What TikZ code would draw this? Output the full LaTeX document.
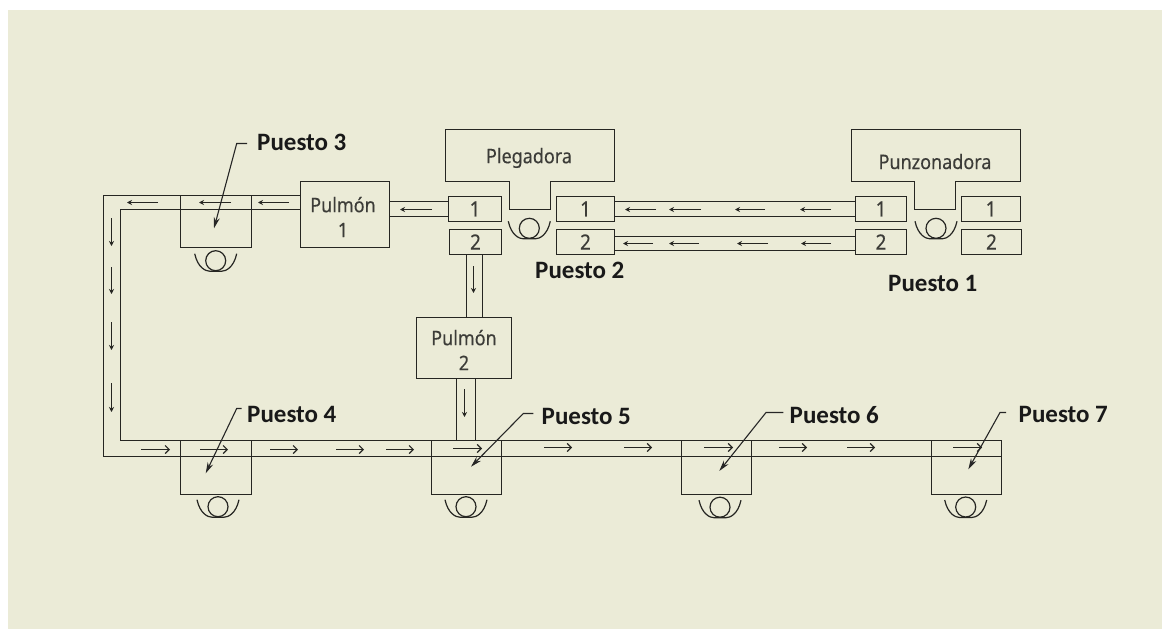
\documentclass[tikz,border=0pt]{standalone}
\usepackage{fontspec}
\setmainfont{Noto Sans}[FakeStretch=0.9,FakeBold=0.25]
\newfontfamily\lblfont{Carlito}[BoldFont={Carlito Bold}]
\usetikzlibrary{arrows.meta}
\definecolor{bgbeige}{HTML}{EBEBD7}
\definecolor{ink}{HTML}{262622}
\definecolor{txt}{HTML}{3C3C38}
\tikzset{
  part/.style={draw=ink,line width=1.7pt,inner sep=0pt,outer sep=0pt,text=txt,font=\fontsize{21}{25}\selectfont,align=center},
  word/.style={inner sep=0pt,text=txt,font=\fontsize{20}{25}\selectfont,align=center},
  rail/.style={draw=ink,line width=1.7pt,line join=miter},
  flowL/.style={draw=ink,line width=1.3pt,-{Stealth[length=5pt,width=5pt]}},
  flowR/.style={draw=ink,line width=1.2pt,-{Straight Barb[length=4pt,width=8pt]}},
  tag/.style={inner sep=0pt,anchor=west,text=black!90,font=\lblfont\bfseries\fontsize{25}{25}\selectfont},
  leader/.style={draw=black!85,line width=1.1pt,-{Stealth[length=11pt,width=6pt]}},
  person/.style={draw=ink,line width=1.2pt}
}
\newcommand{\bx}[6]{\node[part,minimum width={(#4-#2)*1pt},minimum height={(#5-#3)*1pt}] (#1) at ({(#2+#4)/2},{(#3+#5)/2}) {#6};}
\newcommand{\oper}[3]{\node[person,circle,minimum size=20pt,inner sep=0pt] (#1) at (#2,#3) {};
  \draw[person] ({#2-21},{#3-7}) .. controls ({#2-18},{#3+7}) and ({#2-10},{#3+10.5}) .. ({#2-6},{#3+10.5}) -- ({#2+6},{#3+10.5}) .. controls ({#2+10},{#3+10.5}) and ({#2+18},{#3+7}) .. ({#2+21},{#3-7});}
\newcommand{\fL}[3]{\draw[flowL] (#2,#3) -- (#1,#3);}
\newcommand{\fR}[3]{\draw[flowR] (#1,#3) -- (#2,#3);}
\newcommand{\fD}[3]{\draw[flowL] (#1,#2) -- (#1,#3);}
\begin{document}
\begin{tikzpicture}[x=1pt,y=-1pt]
\useasboundingbox (0,0) rectangle (1162,629);
\fill[white] (0,0) rectangle (1162,629);
\fill[bgbeige] (8,10) rectangle (1162,629);

% machines
\draw[rail] (445.5,129.5) -- (614.5,129.5) -- (614.5,181.5) -- (550.5,181.5) -- (550.5,209.5) -- (509.5,209.5) -- (509.5,181.5) -- (445.5,181.5) -- cycle;
\draw[rail] (851.5,129.5) -- (1020.5,129.5) -- (1020.5,181.5) -- (955.5,181.5) -- (955.5,209.5) -- (914.5,209.5) -- (914.5,181.5) -- (851.5,181.5) -- cycle;
\node[word] (plegadora) at (529,158) {Plegadora};
\node[word] (punzonadora) at (935,161.5) {Punzonadora};

% boxes
\bx{pa}{448.5}{196.5}{501.5}{221.5}{1}
\bx{pb}{449.5}{229.5}{501.5}{254.5}{2}
\bx{pc}{556.5}{196.5}{614.5}{221.5}{1}
\bx{pd}{556.5}{229.5}{614.5}{254.5}{2}
\bx{za}{855.5}{196.5}{906.5}{221.5}{1}
\bx{zb}{855.5}{229.5}{906.5}{254.5}{2}
\bx{zc}{961.5}{196.5}{1020.5}{221.5}{1}
\bx{zd}{961.5}{229.5}{1021.5}{254.5}{2}
\bx{pul1}{300.5}{181.5}{389.5}{247.5}{}
\bx{pul2}{416.5}{317.5}{511.5}{378.5}{}
\node[word] (pul1t) at (343,217) {Pulmón\\1};
\node[word] (pul2t) at (464,350) {Pulmón\\2};
\bx{st3}{180.5}{195.5}{251.5}{247.5}{}
\bx{st4}{180.5}{440.5}{251.5}{494.5}{}
\bx{st5}{431.5}{440.5}{501.5}{494.5}{}
\bx{st6}{681.5}{440.5}{751.5}{494.5}{}
\bx{st7}{931.5}{440.5}{1001.5}{494.5}{}

% rails
\draw[rail] (pul1.west |- st3.north) -| (103.5,456.5) -- (st7.east |- 0,456.5);
\draw[rail] (pul1.west |- 0,209.5) -| (120.5,440.5) -- (st7.north east);
\draw[rail] (pul1.east |- 0,201.5) -- (pa.west |- 0,201.5);
\draw[rail] (pul1.east |- 0,216.5) -- (pa.west |- 0,216.5);
\draw[rail] (pc.east |- 0,201.5) -- (za.west |- 0,201.5);
\draw[rail] (pc.east |- 0,216.5) -- (za.west |- 0,216.5);
\draw[rail] (pd.east |- 0,236.5) -- (zb.west |- 0,236.5);
\draw[rail] (pd.east |- 0,250.5) -- (zb.west |- 0,250.5);
\draw[rail] (466.5,0 |- pb.south) -- (466.5,0 |- pul2.north);
\draw[rail] (482.5,0 |- pb.south) -- (482.5,0 |- pul2.north);
\draw[rail] (456.5,0 |- pul2.south) -- (456.5,0 |- st5.north);
\draw[rail] (475.5,0 |- pul2.south) -- (475.5,0 |- st5.north);

% flow arrows
\fL{127}{158}{202.5}\fL{199}{231}{202.5}\fL{258}{289}{202.5}\fL{400}{432}{209.5}
\fL{625}{656}{209.5}\fL{669}{701}{209.5}\fL{735}{765}{209.5}\fL{800}{831}{209.5}
\fL{623}{653}{243.5}\fL{669}{699}{243.5}\fL{737}{768}{243.5}\fL{801}{831}{243.5}
\fD{111.5}{218}{246}\fD{111.5}{267}{294}\fD{111.5}{322}{350}\fD{111.5}{383}{412}
\fD{473.5}{266}{293}\fD{464.5}{389}{417}
\fR{141}{170}{449.5}\fR{200}{228}{449.5}\fR{270}{298}{449.5}\fR{336}{364}{449.5}\fR{386}{414}{449.5}
\fR{453}{482}{448.5}\fR{544}{572}{447.5}\fR{624}{652}{447.5}
\fR{704}{733}{447.5}\fR{779}{807}{447.5}\fR{847}{875}{447.5}\fR{953}{982}{447.5}

% operators
\oper{op1}{936}{228.3}
\oper{op2}{529.3}{228.3}
\oper{op3}{215.7}{260.7}
\oper{op4}{218}{506.7}
\oper{op5}{466}{506.7}
\oper{op6}{720}{507.2}
\oper{op7}{965.7}{507}

% labels
\node[tag] (l1) at (888,283) {Puesto 1};
\node[tag] (l2) at (535,270) {Puesto 2};
\node[tag] (l3) at (257,142.5) {Puesto 3};
\node[tag] (l4) at (247,414) {Puesto 4};
\node[tag] (l5) at (541.5,416) {Puesto 5};
\node[tag] (l6) at (789.5,415) {Puesto 6};
\node[tag] (l7) at (1018.5,414) {Puesto 7};

% leaders
\coordinate (t3) at (214,228.3);
\coordinate (t4) at (205.7,473.3);
\coordinate (t5) at (471,466.7);
\coordinate (t6) at (719.3,471);
\coordinate (t7) at (968.3,469.3);
\draw[leader] (247,143.5) -- (236.7,143.5) -- (t3);
\draw[leader] (241.7,408.5) -- (236.7,408.5) -- (t4);
\draw[leader] (533.3,413.5) -- (523.3,413.5) -- (t5);
\draw[leader] (783.3,412.5) -- (766,412.5) -- (t6);
\draw[leader] (1006,412.5) -- (1000,412.5) -- (t7);
\end{tikzpicture}
\end{document}
